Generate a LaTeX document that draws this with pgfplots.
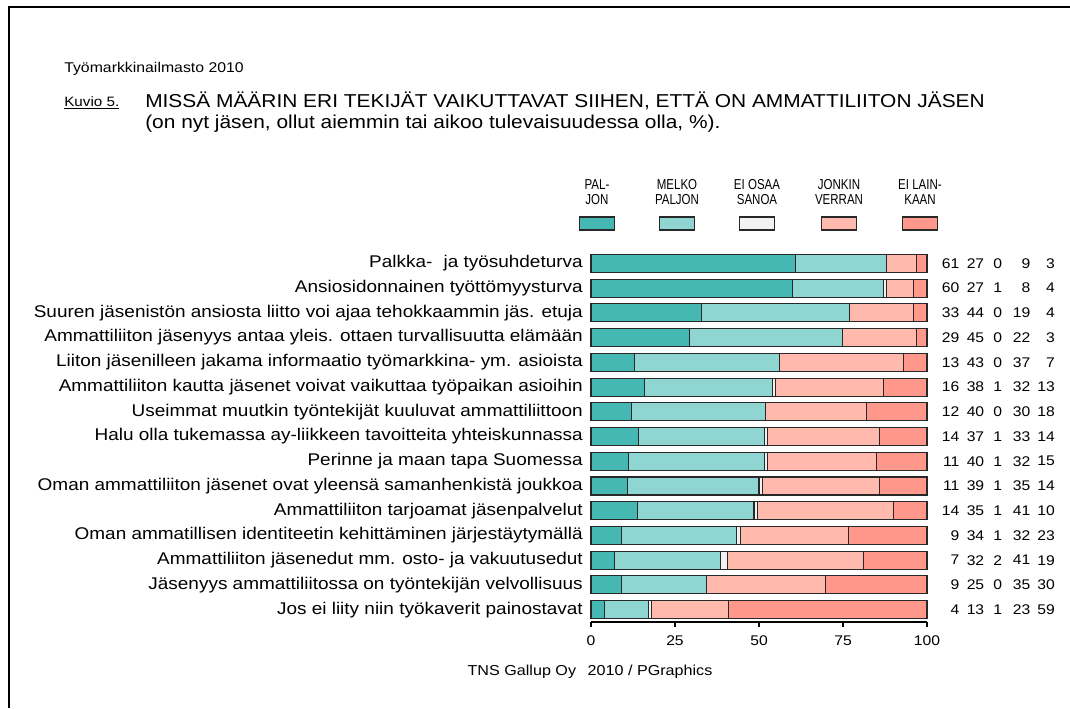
\documentclass[border=0pt]{standalone}
\usepackage{fontspec}
\setmainfont{Liberation Sans}[FakeStretch=1.12]
\newfontfamily\narrowfont[FakeStretch=0.8]{Liberation Sans}
\usepackage{pgfplots}
\usepackage{pgfplotstable}
\pgfplotsset{compat=1.18}

\definecolor{cA}{RGB}{69,184,180}
\definecolor{cB}{RGB}{143,214,211}
\definecolor{cC}{RGB}{242,242,242}
\definecolor{cD}{RGB}{255,186,173}
\definecolor{cE}{RGB}{255,152,138}
\definecolor{edge}{RGB}{40,40,40}

% rows listed from bottom (y=0) to top (y=14)
% a..e: printed (rounded) percentages; A..E: bar lengths (unrounded, rows add up to 100)
\pgfplotstableread[col sep=semicolon]{
idx;a;b;c;d;e;A;B;C;D;E;label
0;4;13;1;23;59;4;13;1;23;59;Jos ei liity niin työkaverit painostavat
1;9;25;0;35;30;9.09;25.25;0;35.36;30.30;Jäsenyys ammattiliitossa on työntekijän velvollisuus
2;7;32;2;41;19;6.93;31.68;1.98;40.60;18.81;Ammattiliiton jäsenedut mm. osto- ja vakuutusedut
3;9;34;1;32;23;9.09;34.34;1.01;32.33;23.23;Oman ammatillisen identiteetin kehittäminen järjestäytymällä
4;14;35;1;41;10;13.86;34.65;0.99;40.60;9.90;Ammattiliiton tarjoamat jäsenpalvelut
5;11;39;1;35;14;11;39;1;35;14;Oman ammattiliiton jäsenet ovat yleensä samanhenkistä joukkoa
6;11;40;1;32;15;11.11;40.40;1.01;32.33;15.15;Perinne ja maan tapa Suomessa
7;14;37;1;33;14;14.14;37.37;1.01;33.34;14.14;Halu olla tukemassa ay-liikkeen tavoitteita yhteiskunnassa
8;12;40;0;30;18;12;40;0;30;18;Useimmat muutkin työntekijät kuuluvat ammattiliittoon
9;16;38;1;32;13;16;38;1;32;13;Ammattiliiton kautta jäsenet voivat vaikuttaa työpaikan asioihin
10;13;43;0;37;7;13;43;0;37;7;Liiton jäsenilleen jakama informaatio työmarkkina- ym. asioista
11;29;45;0;22;3;29.29;45.45;0;22.23;3.03;Ammattiliiton jäsenyys antaa yleis. ottaen turvallisuutta elämään
12;33;44;0;19;4;33;44;0;19;4;Suuren jäsenistön ansiosta liitto voi ajaa tehokkaammin jäs. etuja
13;60;27;1;8;4;60;27;1;8;4;Ansiosidonnainen työttömyysturva
14;61;27;0;9;3;61;27;0;9;3;Palkka-\hspace{0.35em} ja työsuhdeturva
}\datatable

\begin{document}
\begin{tikzpicture}[x=0.75pt,y=-0.75pt]
\useasboundingbox[fill=white] (0,0) rectangle (1070,708);
% frame
\draw[line width=1.1pt] (9,708) -- (9,7) -- (1070,7);
\coordinate (axSW) at (591,622);

% titles
\node[anchor=west,inner sep=0pt,font=\fontsize{10.6}{12}\selectfont] at (64,69) {Työmarkkinailmasto 2010};
\node[anchor=west,inner sep=0pt,font=\fontsize{10.2}{11}\selectfont] at (64,103) {\underline{Kuvio 5.}};
\node[anchor=north west,inner sep=0pt,align=left,font=\fontsize{14}{15.5}\selectfont] at (145,92)
  {MISSÄ MÄÄRIN ERI TEKIJÄT VAIKUTTAVAT SIIHEN, ETTÄ ON AMMATTILIITON JÄSEN\\(on nyt jäsen, ollut aiemmin tai aikoo tulevaisuudessa olla, \%).};

% legend
\foreach \cx/\col/\txt in {597/cA/{PAL-\\JON},677/cB/{MELKO\\PALJON},757/cC/{EI OSAA\\SANOA},839/cD/{JONKIN\\VERRAN},920/cE/{EI LAIN-\\KAAN}}{
  \node[align=center,inner sep=0pt,font=\narrowfont\fontsize{10.8}{11.8}\selectfont] at (\cx,192) {\txt};
  \draw[fill=\col,draw=edge,line width=0.8pt] (\cx-17.5,217) rectangle (\cx+17.5,230);
}

% footer
\node[inner sep=0pt,font=\fontsize{10.8}{12}\selectfont] at (590,672) {TNS Gallup Oy\hspace{0.5em} 2010 / PGraphics};

\begin{axis}[
  at={(axSW)}, anchor=south west,
  scale only axis, width=252pt, height=278.25pt,
  xbar stacked, bar width=13.5pt,
  xmin=0, xmax=100, ymin=-0.5, ymax=14.5,
  axis x line*=bottom, axis y line*=left,
  y axis line style={draw=none},
  x axis line style={line width=0.8pt},
  xtick={0,25,50,75,100},
  xtick align=outside, xtick style={line width=0.8pt,black},
  major tick length=4pt,
  ytick={0,...,14}, ytick style={draw=none},
  yticklabels from table={\datatable}{label},
  yticklabel style={anchor=east,inner sep=0pt,xshift=-6pt,font=\fontsize{12.7}{14}\selectfont},
  xticklabel style={font=\fontsize{10.5}{12}\selectfont,inner sep=0pt, yshift=-6pt},
  /pgf/number format/assume math mode=true,
  every axis plot/.append style={draw=edge,line width=0.8pt},
  clip=false,
]
\addplot[fill=cA] table[x=A,y=idx]{\datatable};
\addplot[fill=cB] table[x=B,y=idx]{\datatable};
\addplot[fill=cC] table[x=C,y=idx]{\datatable};
\addplot[fill=cD] table[x=D,y=idx]{\datatable};
\addplot[fill=cE] table[x=E,y=idx]{\datatable};
\end{axis}

\begin{axis}[
  at={(axSW)}, anchor=south west,
  scale only axis, width=252pt, height=278.25pt,
  xmin=0, xmax=100, ymin=-0.5, ymax=14.5,
  hide axis, clip=false,
  nodes near coords, point meta=explicit symbolic,
  nodes near coords style={anchor=east,inner sep=0pt,font=\fontsize{10.5}{12}\selectfont},
]
\addplot[draw=none,mark=none] table[x expr=109.7,y=idx,meta=a]{\datatable};
\addplot[draw=none,mark=none] table[x expr=117.1,y=idx,meta=b]{\datatable};
\addplot[draw=none,mark=none] table[x expr=122.4,y=idx,meta=c]{\datatable};
\addplot[draw=none,mark=none] table[x expr=130.8,y=idx,meta=d]{\datatable};
\addplot[draw=none,mark=none] table[x expr=138.1,y=idx,meta=e]{\datatable};
\end{axis}
\end{tikzpicture}
\end{document}
